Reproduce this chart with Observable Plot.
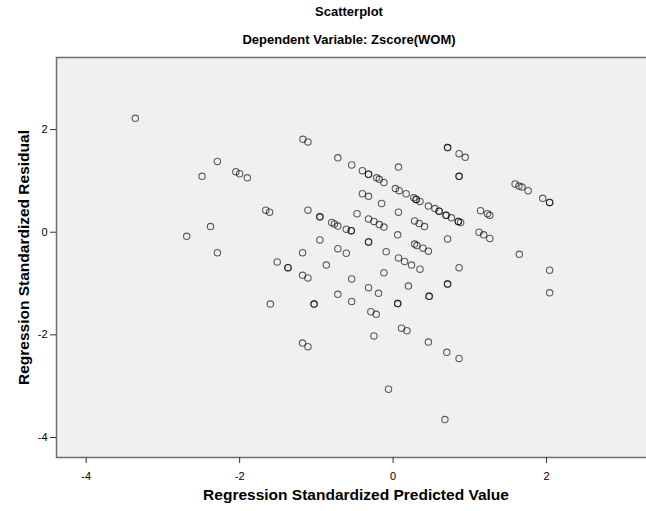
<!DOCTYPE html>
<html>
<head>
<meta charset="utf-8">
<script src="https://cdn.jsdelivr.net/npm/d3@7"></script>
<script src="https://cdn.jsdelivr.net/npm/@observablehq/plot@0.6"></script>
<style>
  html, body { margin: 0; padding: 0; background: #fff; overflow: hidden; width: 646px; height: 511px; }
  #wrap { position: relative; width: 646px; height: 511px; overflow: hidden; font-family: "Liberation Sans", Arial, sans-serif; }
  .t { position: absolute; left: 0; width: 698px; text-align: center; font-weight: bold; color: #000; font-size: 13px; line-height: 16px; }
  #chart { position: absolute; left: 0; top: 50px; width: 660px; height: 461px; }
  #chart svg { max-width: none !important; width: 660px !important; height: 461px !important; }
</style>
</head>
<body>
<div id="wrap">
  <div class="t" style="top:4px">Scatterplot</div>
  <div class="t" style="top:32px">Dependent Variable: Zscore(WOM)</div>
  <div id="chart"></div>
</div>
<script>
const title = "Scatterplot";
const subtitle = "Dependent Variable: Zscore(WOM)";
const xLabel = "Regression Standardized Predicted Value";
const yLabel = "Regression Standardized Residual";
const xTicks = [-4, -2, 0, 2];
const yTicks = [-4, -2, 0, 2];

// Regression standardized predicted values (x) and residuals (y)
const predicted = [
  -3.36, -1.175, -1.11, -0.72, -2.29, -2.49, -2.05, -2.00, -1.90, -1.66,
  -1.61, -1.11, -0.954, -0.954, -0.80, -0.765, -0.72, -0.61, -0.545, -0.545,
  -2.38, -2.69, -0.954, -2.29, -1.18, -0.72, -0.61, -1.51, -1.37, -1.37,
  -0.87, -1.18, -1.11, -0.72, -1.60, -1.03, -1.03, -1.18, -1.11, -0.32,
  -0.32, -0.09, 0.07, 0.15, 0.24, 0.35, 0.28, 0.31, 0.39, 0.46,
  0.71, 1.12, 1.18, 1.26, 1.645, 2.04, 2.04, -0.12, -0.54, 0.86,
  -0.32, -0.19, 0.20, 0.71, 0.71, -0.54, 0.06, 0.06, 0.47, 0.47,
  -0.29, -0.22, -0.25, 0.11, 0.18, 0.46, 0.70, 0.86, -0.06, 0.675,
  -0.54, -0.40, -0.32, -0.32, -0.215, -0.18, -0.12, 0.07, 0.71, 0.71,
  0.86, 0.94, 0.86, 0.86, -0.40, -0.32, -0.15, -0.47, -0.32, -0.25,
  -0.18, -0.12, 0.03, 0.08, 0.17, 0.27, 0.30, 0.30, 0.35, 0.46,
  0.545, 0.60, 0.60, 0.69, 0.69, 0.76, 0.85, 0.85, 0.88, 0.07,
  0.28, 0.34, 0.41, 0.06, 1.14, 1.23, 1.26, 1.59, 1.64, 1.68,
  1.76, 1.95, 2.04, 2.04
];
const residual = [
  2.22, 1.81, 1.76, 1.45, 1.38, 1.09, 1.18, 1.14, 1.06, 0.43,
  0.39, 0.43, 0.30, 0.30, 0.19, 0.16, 0.12, 0.06, 0.03, 0.03,
  0.11, -0.08, -0.15, -0.40, -0.40, -0.32, -0.41, -0.58, -0.69, -0.69,
  -0.64, -0.84, -0.89, -1.21, -1.40, -1.40, -1.40, -2.16, -2.23, -0.19,
  -0.19, -0.38, -0.50, -0.57, -0.64, -0.72, -0.23, -0.26, -0.31, -0.37,
  -0.13, 0.00, -0.05, -0.12, -0.43, -0.74, -1.18, -0.79, -0.91, -0.69,
  -1.08, -1.19, -1.05, -1.01, -1.01, -1.35, -1.39, -1.39, -1.25, -1.25,
  -1.55, -1.60, -2.02, -1.87, -1.92, -2.14, -2.34, -2.46, -3.06, -3.65,
  1.31, 1.20, 1.13, 1.13, 1.06, 1.03, 0.97, 1.27, 1.65, 1.65,
  1.53, 1.46, 1.09, 1.09, 0.75, 0.70, 0.56, 0.36, 0.26, 0.21,
  0.15, 0.10, 0.85, 0.81, 0.75, 0.67, 0.64, 0.64, 0.60, 0.51,
  0.46, 0.41, 0.41, 0.33, 0.33, 0.28, 0.21, 0.21, 0.19, 0.39,
  0.22, 0.17, 0.11, -0.05, 0.42, 0.36, 0.33, 0.94, 0.90, 0.88,
  0.81, 0.66, 0.58, 0.58
];

const data = predicted.map((x, i) => ({x, y: residual[i]}));
const fmt = d => String(d);

const chart = Plot.plot({
  width: 660,
  height: 461,
  marginLeft: 56,
  marginRight: 5,
  marginTop: 7,
  marginBottom: 54,
  style: {fontFamily: "'Liberation Sans', Arial, sans-serif", fontSize: "11px", color: "#000", background: "transparent", maxWidth: "none", overflow: "visible"},
  x: {domain: [-4.387, 3.42]},
  y: {domain: [-4.39, 3.405]},
  marks: [
    Plot.frame({fill: "#f0f0f0", stroke: "none"}),
    Plot.frame({stroke: "#6e6e6e", strokeWidth: 1.5}),
    Plot.axisX({ticks: xTicks, tickFormat: fmt, tickSize: 6, tickPadding: 9, label: null, stroke: "#333"}),
    Plot.axisY({ticks: yTicks, tickFormat: fmt, tickSize: 6, tickPadding: 3, label: null, stroke: "#333"}),
    Plot.dot(data, {x: "x", y: "y", r: 3.2, stroke: "#000", strokeOpacity: 0.62, strokeWidth: 1.1, fill: "none"}),
    Plot.text([xLabel], {frameAnchor: "bottom", dy: 42, text: d => d, fontWeight: "bold", fontSize: 15.5, textAnchor: "middle"}),
    Plot.text([yLabel], {frameAnchor: "left", dx: -32, rotate: -90, text: d => d, fontWeight: "bold", fontSize: 15.5, textAnchor: "middle"})
  ]
});
document.getElementById("chart").appendChild(chart);
</script>
</body>
</html>
